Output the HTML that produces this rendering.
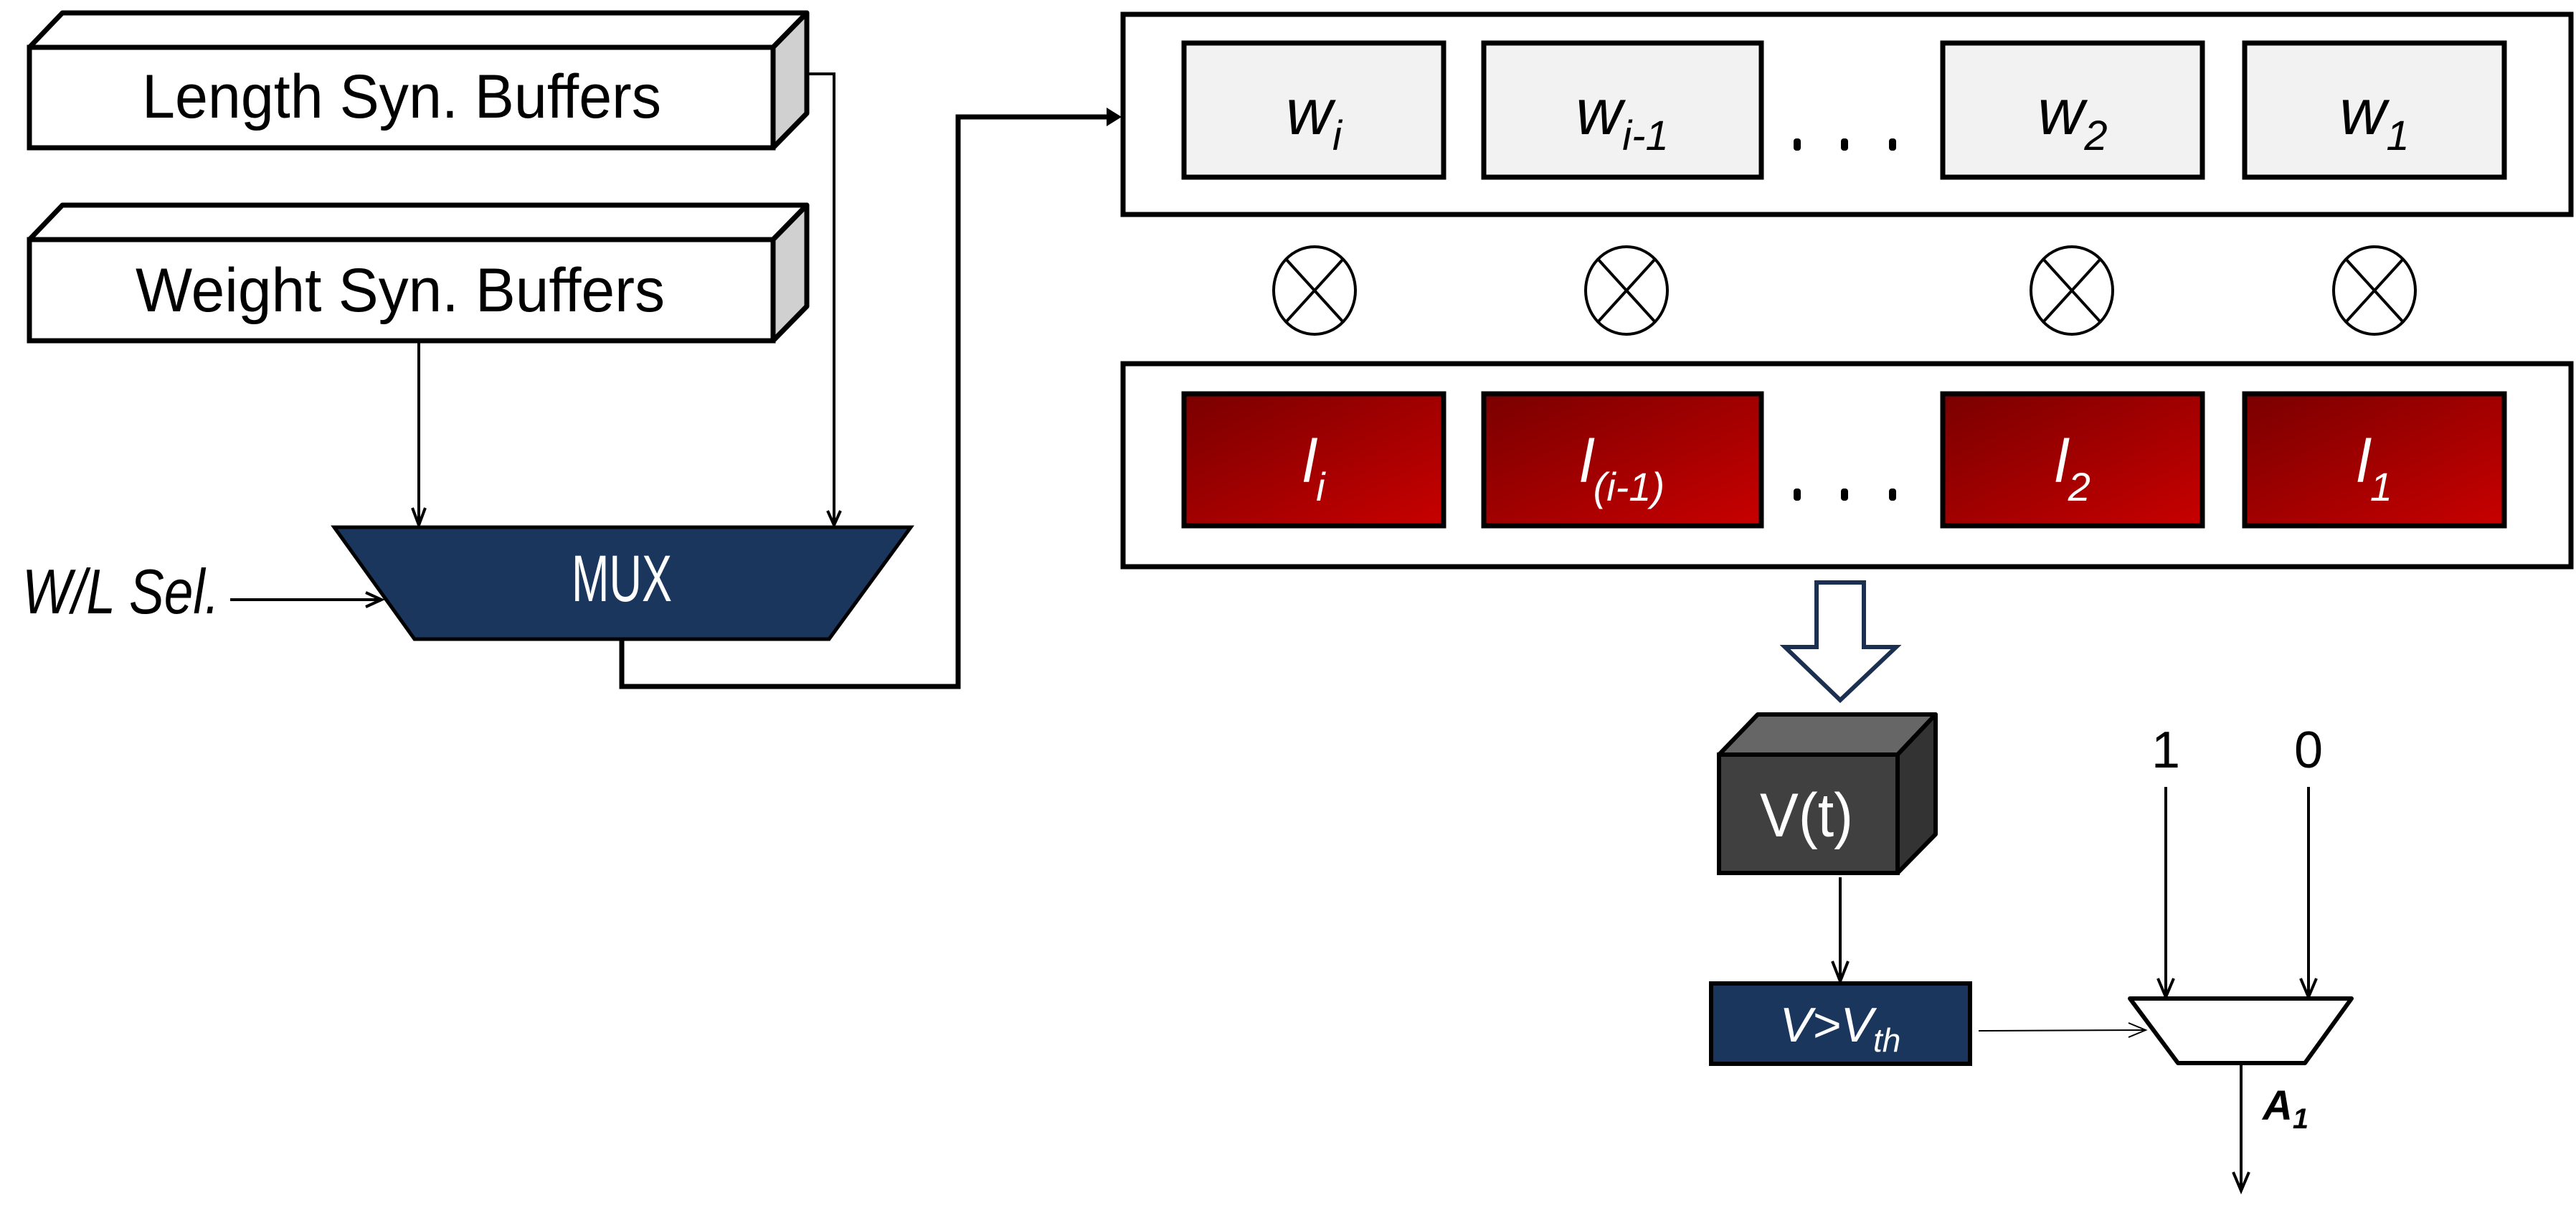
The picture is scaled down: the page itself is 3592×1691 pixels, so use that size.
<!DOCTYPE html>
<html><head><meta charset="utf-8"><style>html,body{margin:0;padding:0;background:#fff}svg{display:block}</style></head><body>
<svg width="3592" height="1691" viewBox="0 0 3592 1691" xmlns="http://www.w3.org/2000/svg" font-family="Liberation Sans, sans-serif">
<defs>
<linearGradient id="red" x1="0" y1="0" x2="1" y2="1"><stop offset="0" stop-color="#7a0000"/><stop offset="1" stop-color="#c80000"/></linearGradient>
</defs>
<!-- Length buffer -->
<polygon points="41,66 87,18 1125,18 1078,66" fill="#fff" stroke="#000" stroke-width="7" stroke-linejoin="round"/>
<polygon points="1078,66 1125,18 1125,158 1078,206" fill="#d0d0d0" stroke="#000" stroke-width="7" stroke-linejoin="round"/>
<rect x="41" y="66" width="1037" height="140" fill="#fff" stroke="#000" stroke-width="7"/>
<text x="560" y="164" font-size="86" text-anchor="middle" textLength="724" lengthAdjust="spacingAndGlyphs">Length Syn. Buffers</text>
<!-- Weight buffer -->
<polygon points="41,334 87,286 1125,286 1078,334" fill="#fff" stroke="#000" stroke-width="7" stroke-linejoin="round"/>
<polygon points="1078,334 1125,286 1125,427 1078,475" fill="#d0d0d0" stroke="#000" stroke-width="7" stroke-linejoin="round"/>
<rect x="41" y="334" width="1037" height="141" fill="#fff" stroke="#000" stroke-width="7"/>
<text x="558" y="434" font-size="86" text-anchor="middle" textLength="738" lengthAdjust="spacingAndGlyphs">Weight Syn. Buffers</text>
<!-- arrows into MUX -->
<polyline points="1127,103 1163,103 1163,730" fill="none" stroke="#000" stroke-width="4"/>
<polyline points="1154,712 1163,732 1172,712" fill="none" stroke="#000" stroke-width="4"/>
<line x1="584" y1="475" x2="584" y2="730" stroke="#000" stroke-width="4"/>
<polyline points="575,708 584,732 593,708" fill="none" stroke="#000" stroke-width="4"/>
<!-- MUX -->
<polygon points="466,735 1270,735 1156,891 578,891" fill="#1b365d" stroke="#000" stroke-width="5"/>
<text x="867" y="838" font-size="92" fill="#fff" text-anchor="middle" textLength="140" lengthAdjust="spacingAndGlyphs">MUX</text>
<text x="31" y="855" font-size="88" font-style="italic" textLength="275" lengthAdjust="spacingAndGlyphs">W/L Sel.</text>
<line x1="321" y1="836" x2="530" y2="836" stroke="#000" stroke-width="4"/>
<polyline points="510,826 532,836 510,846" fill="none" stroke="#000" stroke-width="4"/>
<polyline points="867,891 867,957 1336,957 1336,163 1550,163" fill="none" stroke="#000" stroke-width="7"/>
<polygon points="1543,150 1564,163 1543,176" fill="#000"/>
<!-- top weight box -->
<rect x="1566" y="20" width="2019" height="279" fill="#fff" stroke="#000" stroke-width="7"/>
<g fill="#f2f2f2" stroke="#000" stroke-width="7">
<rect x="1651" y="60" width="362" height="187"/>
<rect x="2069" y="60" width="387" height="187"/>
<rect x="2709" y="60" width="362" height="187"/>
<rect x="3130" y="60" width="362" height="187"/>
</g>
<g font-size="90" font-style="italic" text-anchor="middle">
<text x="1832" y="187">w<tspan font-size="58" dy="22">i</tspan></text>
<text x="2262" y="187">w<tspan font-size="58" dy="22">i-1</tspan></text>
<text x="2890" y="187">w<tspan font-size="58" dy="22">2</tspan></text>
<text x="3311" y="187">w<tspan font-size="58" dy="22">1</tspan></text>
</g>
<!-- otimes -->
<g fill="none" stroke="#000" stroke-width="4">
<g transform="translate(1833,405)"><ellipse rx="57" ry="61"/><line x1="-40" y1="-44" x2="40" y2="44"/><line x1="40" y1="-44" x2="-40" y2="44"/></g>
<g transform="translate(2268,405)"><ellipse rx="57" ry="61"/><line x1="-40" y1="-44" x2="40" y2="44"/><line x1="40" y1="-44" x2="-40" y2="44"/></g>
<g transform="translate(2889,405)"><ellipse rx="57" ry="61"/><line x1="-40" y1="-44" x2="40" y2="44"/><line x1="40" y1="-44" x2="-40" y2="44"/></g>
<g transform="translate(3311,405)"><ellipse rx="57" ry="61"/><line x1="-40" y1="-44" x2="40" y2="44"/><line x1="40" y1="-44" x2="-40" y2="44"/></g>
</g>
<!-- bottom box -->
<rect x="1566" y="507" width="2019" height="283" fill="#fff" stroke="#000" stroke-width="7"/>
<g fill="url(#red)" stroke="#000" stroke-width="7">
<rect x="1651" y="549" width="362" height="184"/>
<rect x="2069" y="549" width="387" height="184"/>
<rect x="2709" y="549" width="362" height="184"/>
<rect x="3130" y="549" width="362" height="184"/>
</g>
<g fill="#000"><rect x="2501" y="193" width="10" height="17" rx="4"/><rect x="2567" y="193" width="10" height="17" rx="4"/><rect x="2634" y="193" width="10" height="17" rx="4"/>
<rect x="2501" y="681" width="10" height="17" rx="4"/><rect x="2567" y="681" width="10" height="17" rx="4"/><rect x="2634" y="681" width="10" height="17" rx="4"/></g>
<g font-size="84" font-style="italic" fill="#fff" text-anchor="middle">
<text x="1832" y="672">l<tspan font-size="56" dy="26">i</tspan></text>
<text x="2262" y="672">l<tspan font-size="56" dy="26">(i-1)</tspan></text>
<text x="2890" y="672">l<tspan font-size="56" dy="26">2</tspan></text>
<text x="3311" y="672">l<tspan font-size="56" dy="26">1</tspan></text>
</g>
<!-- hollow arrow -->
<polygon points="2533,812 2599,812 2599,902 2644,902 2566,976 2489,902 2533,902" fill="#fff" stroke="#1b3050" stroke-width="6"/>
<!-- V(t) cube -->
<polygon points="2397,1052 2451,996 2699,996 2646,1052" fill="#666" stroke="#000" stroke-width="6" stroke-linejoin="round"/>
<polygon points="2646,1052 2699,996 2699,1163 2646,1217" fill="#333" stroke="#000" stroke-width="6" stroke-linejoin="round"/>
<rect x="2397" y="1052" width="249" height="165" fill="#404040" stroke="#000" stroke-width="6"/>
<text x="2519" y="1166" font-size="86" fill="#fff" text-anchor="middle" textLength="130" lengthAdjust="spacingAndGlyphs">V(t)</text>
<line x1="2566" y1="1223" x2="2566" y2="1368" stroke="#000" stroke-width="4"/>
<polyline points="2555,1340 2566,1368 2577,1340" fill="none" stroke="#000" stroke-width="4"/>
<rect x="2386" y="1371" width="361" height="112" fill="#1b365d" stroke="#000" stroke-width="6"/>
<text x="2566" y="1452" font-size="68" font-style="italic" fill="#fff" text-anchor="middle">V&gt;V<tspan font-size="46" dy="14">th</tspan></text>
<line x1="2759" y1="1437" x2="2990" y2="1436" stroke="#000" stroke-width="2"/>
<polyline points="2968,1426 2992,1436 2968,1446" fill="none" stroke="#000" stroke-width="2"/>
<!-- right mux -->
<polygon points="2970,1392 3279,1392 3214,1482 3037,1482" fill="#fff" stroke="#000" stroke-width="6" stroke-linejoin="round"/>
<text x="3020" y="1070" font-size="72" text-anchor="middle">1</text>
<text x="3219" y="1070" font-size="72" text-anchor="middle">0</text>
<line x1="3020" y1="1097" x2="3020" y2="1390" stroke="#000" stroke-width="4"/>
<polyline points="3009,1364 3020,1390 3031,1364" fill="none" stroke="#000" stroke-width="4"/>
<line x1="3219" y1="1097" x2="3219" y2="1390" stroke="#000" stroke-width="4"/>
<polyline points="3208,1364 3219,1390 3230,1364" fill="none" stroke="#000" stroke-width="4"/>
<line x1="3125" y1="1482" x2="3125" y2="1660" stroke="#000" stroke-width="4"/>
<polyline points="3114,1634 3125,1660 3136,1634" fill="none" stroke="#000" stroke-width="4"/>
<text x="3155" y="1561" font-size="58" font-weight="bold" font-style="italic">A<tspan font-size="40" dy="12">1</tspan></text>
</svg>
</body></html>
